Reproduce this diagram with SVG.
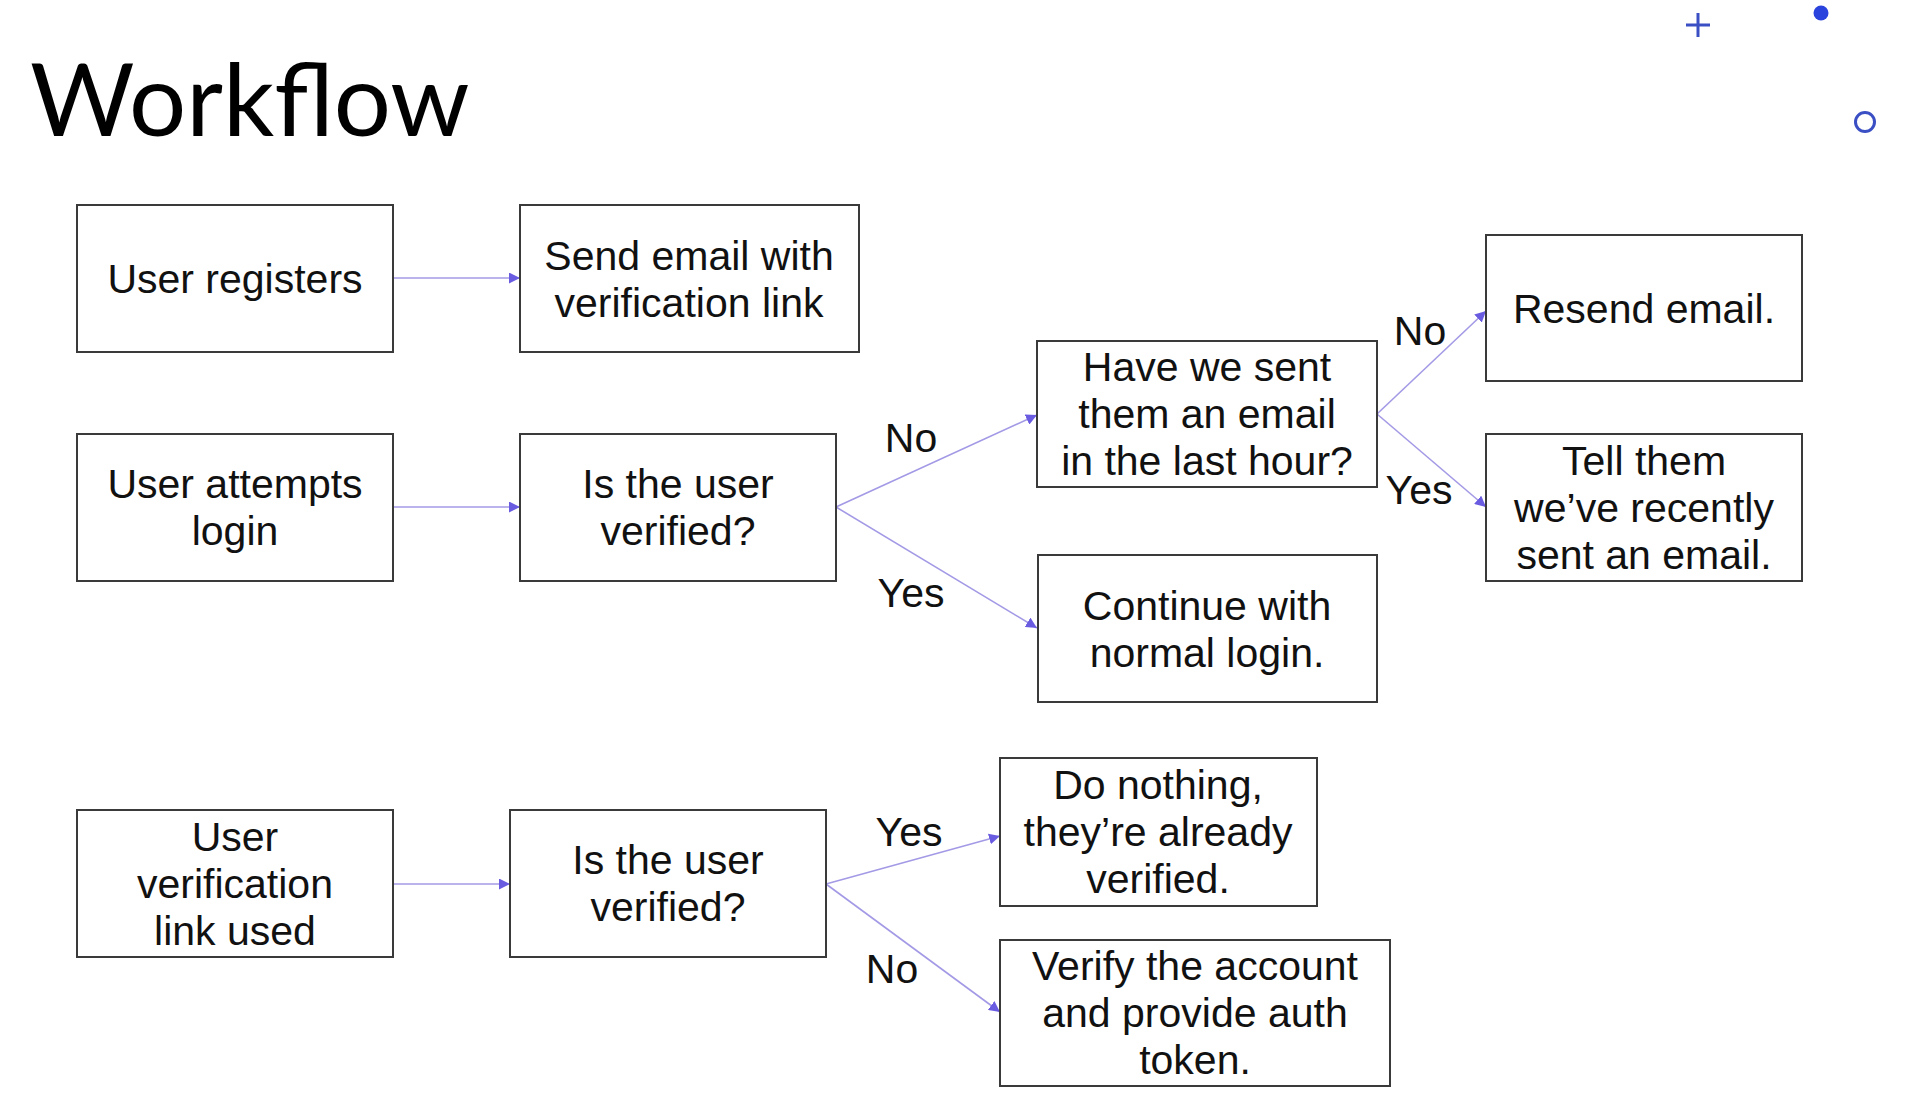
<svg xmlns="http://www.w3.org/2000/svg" width="1922" height="1108" viewBox="0 0 1922 1108">
<style>
.box{fill:#fff;stroke:#3a3a3a;stroke-width:2}
.t{font-family:"Liberation Sans",Arial,sans-serif;font-size:41px;fill:#111;text-anchor:middle}
.lbl{font-family:"Liberation Sans",Arial,sans-serif;font-size:41px;fill:#111;text-anchor:middle}
.edge{stroke:#a39ae6;stroke-width:1.6;fill:none;marker-end:url(#arr)}
</style>
<defs>
<marker id="arr" viewBox="0 0 10 10" refX="10" refY="5" markerWidth="11" markerHeight="11" markerUnits="userSpaceOnUse" orient="auto">
<path d="M0,0 L10,5 L0,10 z" fill="#6a5ce0"/>
</marker>
</defs>
<rect width="1922" height="1108" fill="#fff"/>
<text x="30" y="136" font-family="Lato,'Open Sans',sans-serif" font-size="101" fill="#000">Workflow</text>
<g id="decor">
<path d="M1686,25 H1710 M1698,13 V37" stroke="#3b4fc4" stroke-width="3"/>
<circle cx="1821" cy="13" r="7.5" fill="#2a43dc"/>
<circle cx="1865" cy="122" r="9.5" fill="none" stroke="#3b4fc4" stroke-width="3"/>
</g>
<g id="connectors">
<line class="edge" x1="394" y1="278" x2="520" y2="278"/>
<line class="edge" x1="394" y1="507" x2="520" y2="507"/>
<line class="edge" x1="836" y1="507" x2="1037" y2="415"/>
<line class="edge" x1="836" y1="507" x2="1037" y2="628"/>
<line class="edge" x1="1377" y1="414" x2="1486" y2="311"/>
<line class="edge" x1="1377" y1="414" x2="1486" y2="507"/>
<line class="edge" x1="394" y1="884" x2="510" y2="884"/>
<line class="edge" x1="826" y1="884" x2="1000" y2="836"/>
<line class="edge" x1="826" y1="884" x2="1000" y2="1012"/>
<text class="lbl" x="911" y="452">No</text>
<text class="lbl" x="911" y="607">Yes</text>
<text class="lbl" x="1420" y="345">No</text>
<text class="lbl" x="1419" y="504">Yes</text>
<text class="lbl" x="909" y="846">Yes</text>
<text class="lbl" x="892" y="983">No</text>
</g>
<g id="n1"><rect class="box" x="77" y="205" width="316" height="147"/><text class="t" x="235" y="293">User registers</text></g>
<g id="n2"><rect class="box" x="520" y="205" width="339" height="147"/><text class="t" x="689" y="270">Send email with</text><text class="t" x="689" y="317">verification link</text></g>
<g id="n3"><rect class="box" x="77" y="434" width="316" height="147"/><text class="t" x="235" y="498">User attempts</text><text class="t" x="235" y="545">login</text></g>
<g id="n4"><rect class="box" x="520" y="434" width="316" height="147"/><text class="t" x="678" y="498">Is the user</text><text class="t" x="678" y="545">verified?</text></g>
<g id="n5"><rect class="box" x="1037" y="341" width="340" height="146"/><text class="t" x="1207" y="381">Have we sent</text><text class="t" x="1207" y="428">them an email</text><text class="t" x="1207" y="475">in the last hour?</text></g>
<g id="n6"><rect class="box" x="1038" y="555" width="339" height="147"/><text class="t" x="1207" y="620">Continue with</text><text class="t" x="1207" y="667">normal login.</text></g>
<g id="n7"><rect class="box" x="1486" y="235" width="316" height="146"/><text class="t" x="1644" y="323">Resend email.</text></g>
<g id="n8"><rect class="box" x="1486" y="434" width="316" height="147"/><text class="t" x="1644" y="475">Tell them</text><text class="t" x="1644" y="522">we’ve recently</text><text class="t" x="1644" y="569">sent an email.</text></g>
<g id="n9"><rect class="box" x="77" y="810" width="316" height="147"/><text class="t" x="235" y="851">User</text><text class="t" x="235" y="898">verification</text><text class="t" x="235" y="945">link used</text></g>
<g id="n10"><rect class="box" x="510" y="810" width="316" height="147"/><text class="t" x="668" y="874">Is the user</text><text class="t" x="668" y="921">verified?</text></g>
<g id="n11"><rect class="box" x="1000" y="758" width="317" height="148"/><text class="t" x="1158" y="799">Do nothing,</text><text class="t" x="1158" y="846">they’re already</text><text class="t" x="1158" y="893">verified.</text></g>
<g id="n12"><rect class="box" x="1000" y="940" width="390" height="146"/><text class="t" x="1195" y="980">Verify the account</text><text class="t" x="1195" y="1027">and provide auth</text><text class="t" x="1195" y="1074">token.</text></g>
</svg>
